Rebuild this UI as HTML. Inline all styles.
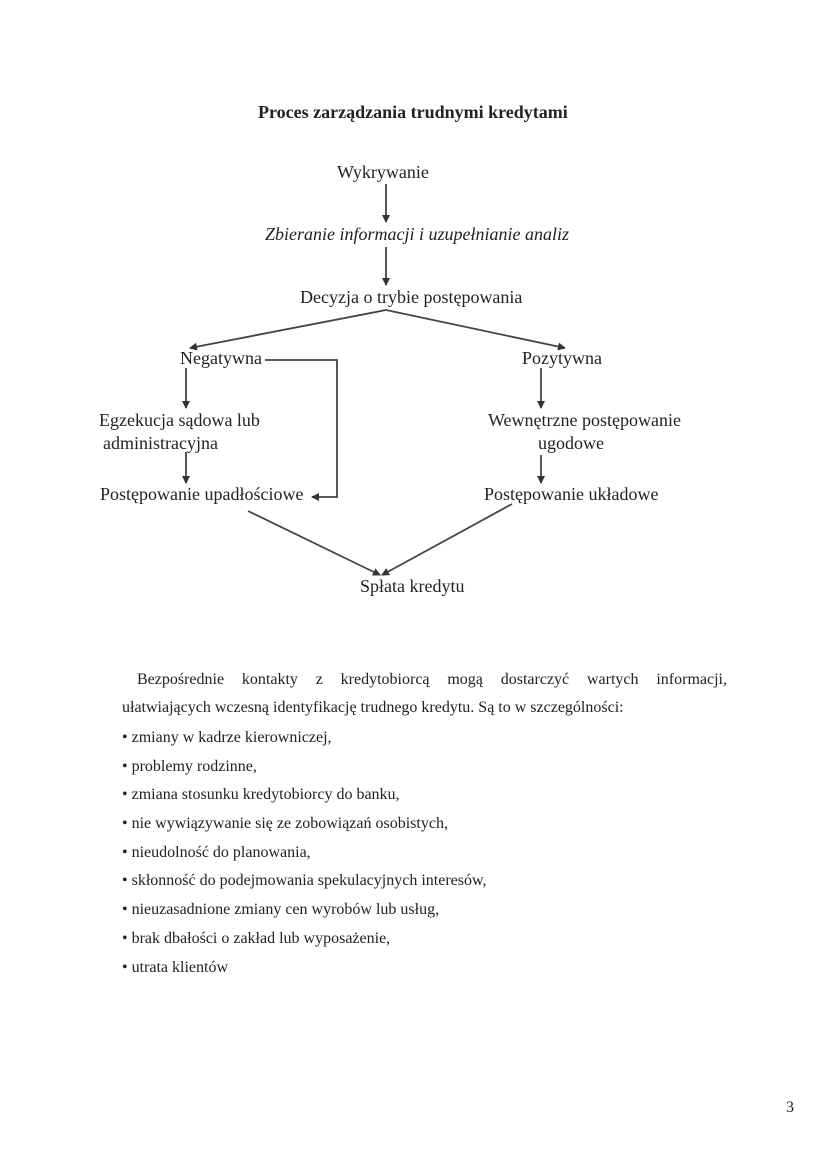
<!DOCTYPE html>
<html><head><meta charset="utf-8"><style>
html,body{margin:0;padding:0;background:#fff;}
body{width:826px;height:1169px;position:relative;font-family:"Liberation Serif",serif;color:#222;}
.t{position:absolute;white-space:nowrap;font-size:18px;line-height:20px;}
.p{position:absolute;white-space:nowrap;font-size:16px;line-height:18px;}
svg{position:absolute;left:0;top:0;}
</style></head><body>
<svg width="826" height="1169" viewBox="0 0 826 1169">
<defs><marker id="a" markerWidth="8" markerHeight="8" refX="7" refY="4" orient="auto" markerUnits="userSpaceOnUse"><path d="M0,0 L8,4 L0,8 z" fill="#333"/></marker></defs>
<g stroke="#444" stroke-width="1.8" fill="none">
<line x1="386" y1="184" x2="386" y2="222" marker-end="url(#a)"/>
<line x1="386" y1="247" x2="386" y2="285" marker-end="url(#a)"/>
<line x1="386" y1="310" x2="190" y2="348" marker-end="url(#a)"/>
<line x1="386" y1="310" x2="565" y2="348" marker-end="url(#a)"/>
<line x1="186" y1="368" x2="186" y2="408" marker-end="url(#a)"/>
<line x1="186" y1="452" x2="186" y2="483" marker-end="url(#a)"/>
<polyline points="265,360 337,360 337,497 312,497" marker-end="url(#a)"/>
<line x1="541" y1="368" x2="541" y2="408" marker-end="url(#a)"/>
<line x1="541" y1="455" x2="541" y2="483" marker-end="url(#a)"/>
<line x1="248" y1="511" x2="380" y2="575" marker-end="url(#a)"/>
<line x1="512" y1="504" x2="382" y2="575" marker-end="url(#a)"/>
</g></svg>
<div class="t" style="left:258px;top:102px;font-weight:bold;">Proces zarządzania trudnymi kredytami</div>
<div class="t" style="left:337px;top:162px;">Wykrywanie</div>
<div class="t" style="left:265px;top:224px;font-style:italic;">Zbieranie informacji i uzupełnianie analiz</div>
<div class="t" style="left:300px;top:287px;">Decyzja o trybie postępowania</div>
<div class="t" style="left:180px;top:348px;">Negatywna</div>
<div class="t" style="left:522px;top:348px;">Pozytywna</div>
<div class="t" style="left:99px;top:410px;">Egzekucja sądowa lub</div>
<div class="t" style="left:103px;top:433px;">administracyjna</div>
<div class="t" style="left:488px;top:410px;">Wewnętrzne postępowanie</div>
<div class="t" style="left:538px;top:433px;">ugodowe</div>
<div class="t" style="left:100px;top:484px;">Postępowanie upadłościowe</div>
<div class="t" style="left:484px;top:484px;">Postępowanie układowe</div>
<div class="t" style="left:360px;top:576px;">Spłata kredytu</div>
<div class="p" style="left:137px;top:671px;width:590px;text-align:justify;text-align-last:justify;">Bezpośrednie kontakty z kredytobiorcą mogą dostarczyć wartych informacji,</div>
<div class="p" style="left:122px;top:699px;">ułatwiających wczesną identyfikację trudnego kredytu. Są to w szczególności:</div>
<div class="p" style="left:122px;top:729px;">• zmiany w kadrze kierowniczej,</div>
<div class="p" style="left:122px;top:758px;">• problemy rodzinne,</div>
<div class="p" style="left:122px;top:786px;">• zmiana stosunku kredytobiorcy do banku,</div>
<div class="p" style="left:122px;top:815px;">• nie wywiązywanie się ze zobowiązań osobistych,</div>
<div class="p" style="left:122px;top:844px;">• nieudolność do planowania,</div>
<div class="p" style="left:122px;top:872px;">• skłonność do podejmowania spekulacyjnych interesów,</div>
<div class="p" style="left:122px;top:901px;">• nieuzasadnione zmiany cen wyrobów lub usług,</div>
<div class="p" style="left:122px;top:930px;">• brak dbałości o zakład lub wyposażenie,</div>
<div class="p" style="left:122px;top:959px;">• utrata klientów</div>
<div class="p" style="left:786px;top:1099px;">3</div>
</body></html>
